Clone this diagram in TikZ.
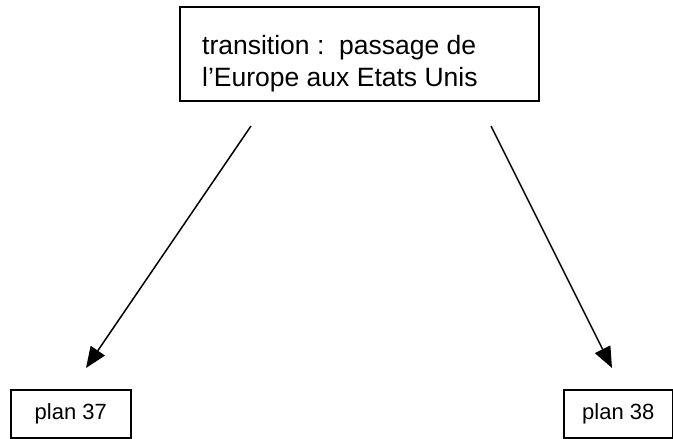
\documentclass[tikz,border=0pt]{standalone}
\usepackage{fontspec}
\setmainfont{Liberation Sans}
\usetikzlibrary{arrows.meta}
\begin{document}
\begin{tikzpicture}[x=1pt,y=-1pt,
  box/.style={draw,line width=1.5pt,inner sep=0pt,anchor=north west},
  toptext/.style={anchor=base west,inner sep=0pt,font=\fontsize{26.5}{31}\selectfont},
  smalltext/.style={font=\fontsize{22}{26}\selectfont},
  conn/.style={line width=1.5pt,-{Triangle[length=21pt,width=17pt]}}]
\useasboundingbox (0,0) rectangle (673,439);
\node[box, minimum width=359pt, minimum height=94pt] (top) at (179,6) {};
\node[toptext] (t1) at (202,54) {transition :\ \ passage de};
\node[toptext] (t2) at (202,86) {l’Europe aux Etats Unis};
\node[box, smalltext, minimum width=120pt, minimum height=48pt] (p37) at (10,389) {plan 37};
\node[box, smalltext, minimum width=109pt, minimum height=48pt] (p38) at (563,389) {plan 38};
\coordinate (s1) at (251,126);
\coordinate (e1) at (86,368);
\coordinate (s2) at (491,126);
\coordinate (e2) at (612,368);
\draw[conn] (s1) -- (e1);
\draw[conn] (s2) -- (e2);
\end{tikzpicture}
\end{document}
